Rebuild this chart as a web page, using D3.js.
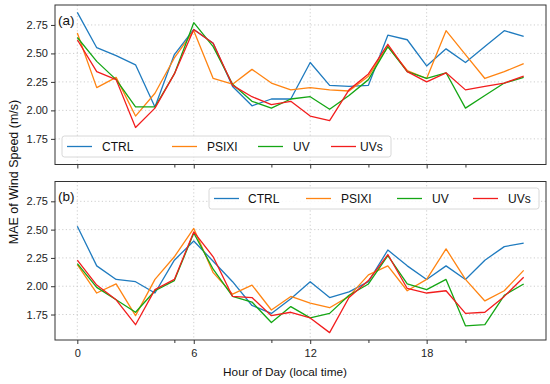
<!DOCTYPE html>
<html>
<head>
<meta charset="utf-8">
<script src="https://cdn.jsdelivr.net/npm/d3@7"></script>
<style>
  body { margin: 0; background: #fff; }
  svg { display: block; font-family: "Liberation Sans", Arial, sans-serif; }
  .tick text { font-size: 11px; fill: #222; }
  .grid line { stroke: #c8c8c8; stroke-dasharray: 1.2 2.4; stroke-width: 0.9; }
</style>
</head>
<body>
<svg id="chart" width="550" height="384"></svg>
<script>
// hours of day
const hours = [0, 1, 2, 3, 4, 5, 6, 7, 8, 9, 10, 11, 12, 13, 14, 15, 16, 17, 18, 19, 20, 21, 22, 23];
const seriesNames = ["CTRL", "PSIXI", "UV", "UVs"];
const xTicks = [0, 6, 12, 18];
const xMinorTicks = [5, 10, 15, 20];
const yTicks = [1.75, 2.0, 2.25, 2.5, 2.75];

// panel (a)
const ctrlA  = [2.86, 2.55, 2.48, 2.40, 2.03, 2.49, 2.71, 2.59, 2.21, 2.04, 2.10, 2.10, 2.42, 2.22, 2.21, 2.22, 2.66, 2.62, 2.39, 2.54, 2.42, 2.56, 2.70, 2.65];
const psixiA = [2.68, 2.20, 2.29, 1.95, 2.15, 2.46, 2.70, 2.28, 2.23, 2.36, 2.24, 2.18, 2.20, 2.18, 2.17, 2.30, 2.56, 2.35, 2.28, 2.70, 2.49, 2.28, 2.34, 2.41];
const uvA    = [2.64, 2.43, 2.27, 2.03, 2.03, 2.32, 2.77, 2.56, 2.23, 2.08, 2.02, 2.10, 2.12, 2.01, 2.13, 2.27, 2.56, 2.34, 2.28, 2.33, 2.02, 2.13, 2.24, 2.29];
const uvsA   = [2.62, 2.34, 2.27, 1.85, 2.02, 2.32, 2.71, 2.59, 2.22, 2.12, 2.05, 2.08, 1.95, 1.91, 2.18, 2.32, 2.58, 2.34, 2.25, 2.33, 2.18, 2.21, 2.24, 2.30];

// panel (b)
const ctrlB  = [2.53, 2.18, 2.06, 2.04, 1.94, 2.23, 2.40, 2.22, 2.04, 1.83, 1.76, 1.89, 2.04, 1.90, 1.95, 2.04, 2.32, 2.18, 2.06, 2.18, 2.06, 2.23, 2.35, 2.38];
const psixiB = [2.19, 1.94, 2.02, 1.74, 2.06, 2.26, 2.51, 2.12, 1.93, 2.01, 1.79, 1.91, 1.85, 1.81, 1.91, 2.10, 2.18, 1.96, 2.06, 2.33, 2.06, 1.87, 1.96, 2.14];
const uvB    = [2.20, 1.99, 1.88, 1.77, 1.96, 2.05, 2.47, 2.15, 1.91, 1.86, 1.68, 1.82, 1.72, 1.76, 1.92, 2.02, 2.27, 2.02, 1.97, 2.06, 1.65, 1.66, 1.92, 2.02];
const uvsB   = [2.23, 2.01, 1.88, 1.66, 1.97, 2.06, 2.48, 2.26, 1.91, 1.90, 1.74, 1.77, 1.72, 1.59, 1.90, 2.05, 2.28, 1.98, 1.94, 1.96, 1.76, 1.77, 1.91, 2.08];

const colors = ["#1f7bbf", "#ff8412", "#14a614", "#f21d1d"];

const svg = d3.select("#chart");

const x = d3.scaleLinear().domain([-1.15, 24.15]).range([55, 546]);

const panels = [
  { label: "(a)", top: 5, bottom: 164.5, series: [ctrlA, psixiA, uvA, uvsA],
    legend: { x: 62, y: 136, w: 329, h: 21, items: [[67, 102], [172, 207], [258, 293], [331, 360]] } },
  { label: "(b)", top: 181.5, bottom: 340, series: [ctrlB, psixiB, uvB, uvsB],
    legend: { x: 209, y: 188, w: 330, h: 21, items: [[214, 248], [306, 341], [397, 432], [473, 508]] } }
];

panels.forEach(p => {
  const y = d3.scaleLinear().domain([1.525, 2.925]).range([p.bottom, p.top]);
  const g = svg.append("g");

  // grid
  g.append("g").attr("class", "grid")
    .selectAll("line").data(xTicks).join("line")
    .attr("x1", d => x(d)).attr("x2", d => x(d))
    .attr("y1", p.top).attr("y2", p.bottom);
  g.append("g").attr("class", "grid")
    .selectAll("line").data(yTicks).join("line")
    .attr("x1", 55).attr("x2", 546)
    .attr("y1", d => y(d)).attr("y2", d => y(d));

  // axes
  const yAxis = g.append("g")
    .attr("transform", "translate(55,0)")
    .call(d3.axisLeft(y).tickValues(yTicks).tickFormat(d3.format(".2f")).tickSize(4).tickPadding(3));
  yAxis.select(".domain").remove();
  yAxis.selectAll(".tick line").attr("stroke", "#333");

  const xAxis = g.append("g")
    .attr("transform", `translate(0,${p.bottom})`)
    .call(d3.axisBottom(x).tickValues(xTicks).tickSize(4).tickPadding(5)
      .tickFormat(p.label === "(b)" ? d3.format("d") : ""));
  xAxis.select(".domain").remove();
  xAxis.selectAll(".tick line").attr("stroke", "#333");

  const xMinor = g.append("g")
    .attr("transform", `translate(0,${p.bottom})`)
    .call(d3.axisBottom(x).tickValues(xMinorTicks).tickSize(3).tickFormat(""));
  xMinor.select(".domain").remove();
  xMinor.selectAll(".tick line").attr("stroke", "#333");

  // lines
  const line = d3.line().x((d, i) => x(hours[i])).y(d => y(d));
  g.selectAll(".series")
    .data(p.series)
    .join("path")
    .attr("class", "series")
    .attr("fill", "none")
    .attr("stroke", (d, i) => colors[i])
    .attr("stroke-width", 1.3)
    .attr("stroke-linejoin", "round")
    .attr("d", line);

  // frame
  g.append("rect")
    .attr("x", 55).attr("y", p.top)
    .attr("width", 491).attr("height", p.bottom - p.top)
    .attr("fill", "none").attr("stroke", "#333").attr("stroke-width", 1);

  // panel label
  g.append("text")
    .attr("x", 58).attr("y", p.top + 19.5)
    .attr("font-size", 13.5).attr("fill", "#111")
    .text(p.label);

  // legend
  const L = p.legend;
  const lg = g.append("g");
  lg.append("rect")
    .attr("x", L.x).attr("y", L.y).attr("width", L.w).attr("height", L.h)
    .attr("rx", 2.5)
    .attr("fill", "#fff").attr("fill-opacity", 0.85)
    .attr("stroke", "#d4d4d4").attr("stroke-width", 0.9);
  L.items.forEach((it, i) => {
    const cy = L.y + L.h / 2;
    lg.append("line")
      .attr("x1", it[0]).attr("x2", it[0] + 25)
      .attr("y1", cy).attr("y2", cy)
      .attr("stroke", colors[i]).attr("stroke-width", 1.3);
    lg.append("text")
      .attr("x", it[1]).attr("y", cy + 4.3)
      .attr("font-size", 12).attr("fill", "#111")
      .text(seriesNames[i]);
  });
});

// axis titles
svg.append("text")
  .attr("x", 285).attr("y", 376)
  .attr("text-anchor", "middle")
  .attr("font-size", 11.8).attr("fill", "#111")
  .text("Hour of Day (local time)");

svg.append("text")
  .attr("transform", "translate(17.5,172) rotate(-90)")
  .attr("text-anchor", "middle")
  .attr("font-size", 12.5).attr("fill", "#111")
  .text("MAE of Wind Speed (m/s)");
</script>
</body>
</html>
